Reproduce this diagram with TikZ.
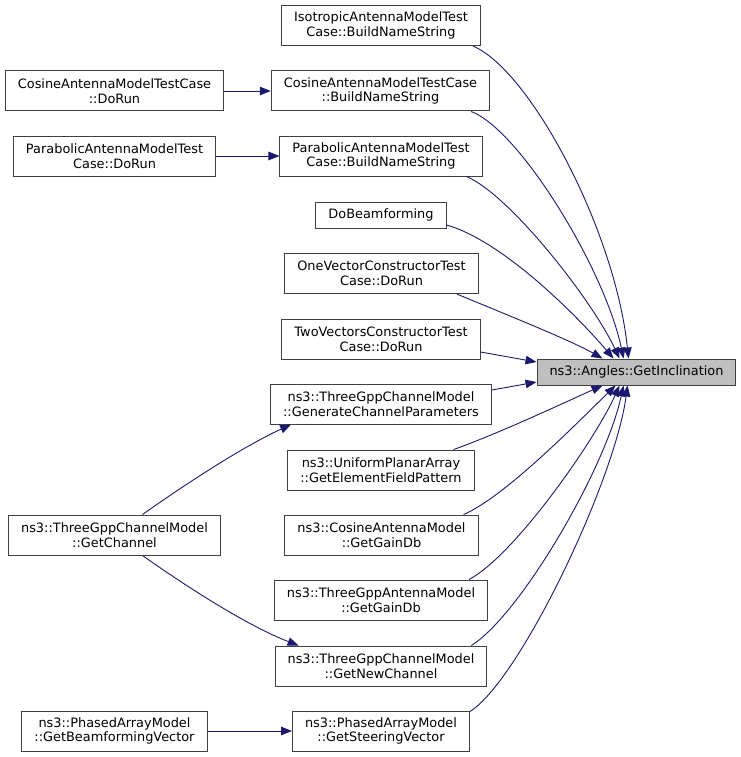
\documentclass[tikz,border=0pt]{standalone}
\usepackage{fontspec}
\setmainfont{DejaVu Sans}
\usetikzlibrary{arrows.meta, positioning, calc}
\definecolor{edgeblue}{RGB}{25,25,112}
\definecolor{boxgray}{RGB}{191,191,191}

\begin{document}
\begin{tikzpicture}[x=1pt, y=-1pt,
    fn/.style={draw=black!75, line width=1pt, fill=white, align=center,
      inner xsep=12.5pt, inner ysep=1pt, minimum height=40pt,
      font=\fontsize{12.9}{14.7}\selectfont},
    fnone/.style={fn, minimum height=26pt},
    edge/.style={draw=edgeblue, line width=0.9pt, -{Triangle[length=11pt,width=8.5pt]}}]
    \useasboundingbox (0,0) rectangle (740,757);

    % Called function
    \node[fnone, fill=boxgray] (tgt) at (636.5,372) {ns3::Angles::GetInclination};

    % Direct callers
    \node[fn] (iso)   at (381,25.5) {IsotropicAntennaModelTest\\Case::BuildNameString};
    \node[fn] (cosb)  at (380.5,91) {CosineAntennaModelTestCase\\::BuildNameString};
    \node[fn] (parb)  at (381,156)  {ParabolicAntennaModelTest\\Case::BuildNameString};
    \node[fnone] (dobf) at (381,215) {DoBeamforming};
    \node[fn] (onev)  at (381.5,273.5) {OneVectorConstructorTest\\Case::DoRun};
    \node[fn] (twov)  at (381,339)  {TwoVectorsConstructorTest\\Case::DoRun};
    \node[fn] (gencp) at (381,404)  {ns3::ThreeGppChannelModel\\::GenerateChannelParameters};
    \node[fn] (upa)   at (381,470)  {ns3::UniformPlanarArray\\::GetElementFieldPattern};
    \node[fn] (cosg)  at (381.5,535) {ns3::CosineAntennaModel\\::GetGainDb};
    \node[fn] (tgag)  at (381,600)  {ns3::ThreeGppAntennaModel\\::GetGainDb};
    \node[fn] (gnc)   at (381,666)  {ns3::ThreeGppChannelModel\\::GetNewChannel};
    \node[fn] (gsv)   at (381,731)  {ns3::PhasedArrayModel\\::GetSteeringVector};

    % Second level callers
    \node[fn] (cosr) at (114.5,91)  {CosineAntennaModelTestCase\\::DoRun};
    \node[fn] (parr) at (114.5,156) {ParabolicAntennaModelTest\\Case::DoRun};
    \node[fn] (gch)  at (114.5,535) {ns3::ThreeGppChannelModel\\::GetChannel};
    \node[fn] (gbv)  at (114.5,731) {ns3::PhasedArrayModel\\::GetBeamformingVector};

    % Edges into the called function, from the top
    \draw[edge] ($(iso.south east)+(-8,0)$) .. controls (530,70) and (615,230) .. ($(tgt.north west)+(92,0)$);
    \draw[edge] ($(cosb.south east)+(-19,0)$) .. controls (520,130) and (605,270) .. ($(tgt.north west)+(87,0)$);
    \draw[edge] ($(parb.south east)+(-16,0)$) .. controls (510,195) and (592,300) .. ($(tgt.north west)+(83,0)$);
    \draw[edge] ($(dobf.east)+(0,10)$) .. controls (500,240) and (572,310) .. ($(tgt.north west)+(77,0)$);
    \draw[edge] ($(onev.south east)+(-22,0)$) .. controls (500,312) and (570,340) .. ($(tgt.north west)+(66,0)$);
    \draw[edge] ($(twov.east)+(0,13)$) -- ($(tgt.west)+(0,-10)$);
    % Edges into the called function, from the bottom
    \draw[edge] ($(gencp.east)+(0,-14)$) -- ($(tgt.west)+(0,10)$);
    \draw[edge] ($(upa.north east)+(-21,0)$) .. controls (500,433) and (570,400) .. ($(tgt.south west)+(66,0)$);
    \draw[edge] ($(cosg.north east)+(-15,0)$) .. controls (505,497) and (580,420) .. ($(tgt.south west)+(79,0)$);
    \draw[edge] ($(tgag.north east)+(-19,0)$) .. controls (515,555) and (595,440) .. ($(tgt.south west)+(83,0)$);
    \draw[edge] ($(gnc.north east)+(-16,0)$) .. controls (520,615) and (605,470) .. ($(tgt.south west)+(87,0)$);
    \draw[edge] ($(gsv.north east)+(0,1)$) .. controls (520,680) and (615,480) .. ($(tgt.south west)+(91,0)$);

    % Second level edges
    \draw[edge] (cosr) -- (cosb);
    \draw[edge] (parr) -- (parb);
    \draw[edge] (gbv) -- (gsv);
    \draw[edge] ($(gch.north)+(28,0)$) .. controls (180,488) and (240,448) .. ($(gencp.south west)+(21,0)$);
    \draw[edge] ($(gch.south)+(28,0)$) .. controls (180,582) and (245,625) .. ($(gnc.north west)+(24,0)$);
  \end{tikzpicture}
\end{document}
